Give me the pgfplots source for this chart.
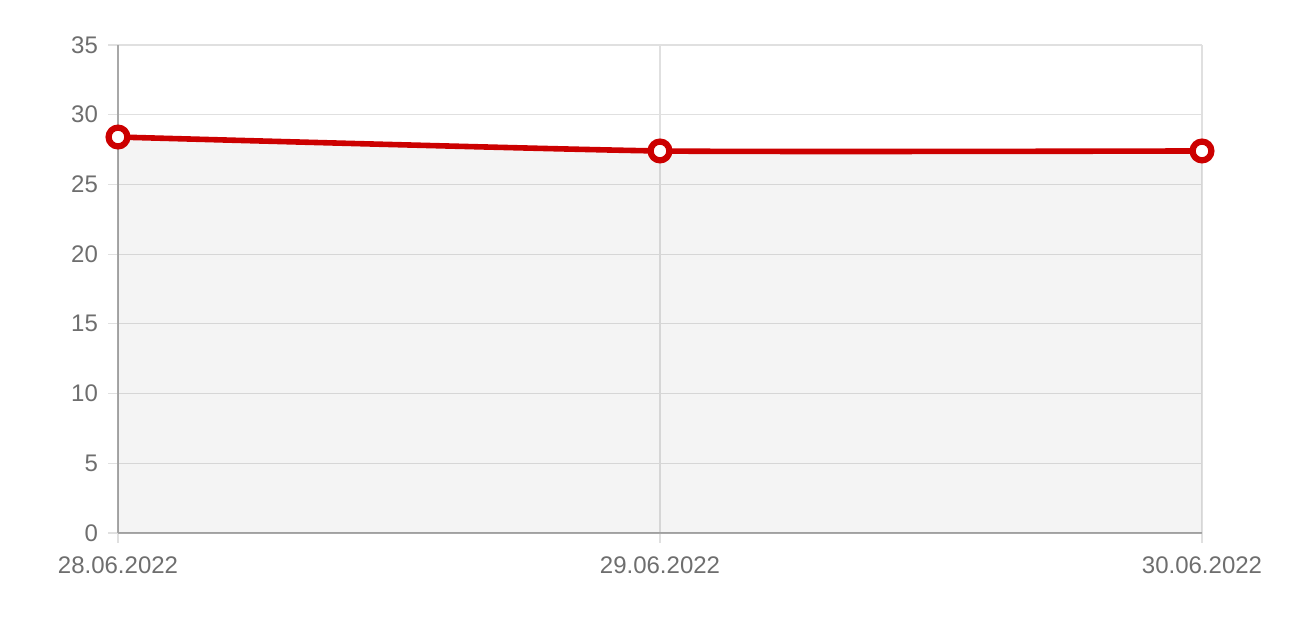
\documentclass[border=0pt]{standalone}
\usepackage{fontspec}
\setmainfont{Liberation Sans}
\usepackage{pgfplots}
\pgfplotsset{compat=1.18}
\definecolor{linered}{RGB}{204,0,0}
\definecolor{gridgray}{RGB}{224,224,224}
\definecolor{axisgray}{RGB}{168,168,168}
\definecolor{labelgray}{RGB}{110,110,110}
\begin{document}
\begin{tikzpicture}
% canvas: 1px = 0.5pt, axis box 118..1202 x 45..533 of 1292x620
\useasboundingbox (-59pt,-43.5pt) rectangle (587pt,266.5pt);
\begin{axis}[
  at={(0,0)}, anchor=south west,
  scale only axis, width=542pt, height=244pt,
  xmin=0, xmax=2, ymin=0, ymax=35,
  xtick={0,1,2}, xticklabels={28.06.2022,29.06.2022,30.06.2022},
  ytick={0,5,...,35},
  grid=major, major grid style={gridgray, line width=0.6pt},
  axis lines=left, axis line style={-, axisgray, line width=0.7pt},
  tick align=outside, major tick length=5pt,
  tick style={gridgray, line width=0.6pt},
  tick label style={labelgray, font=\fontsize{12}{14}\selectfont},
  /pgf/number format/assume math mode=true,
  yticklabel style={xshift=-1.5pt},
  xticklabel style={yshift=-3.5pt},
  clip=false,
]
\addplot[draw=none, fill=black, fill opacity=0.045, smooth, tension=0.3]
  coordinates {(0,28.4) (1,27.4) (2,27.4)} \closedcycle;
\addplot[linered, line width=2.8pt, smooth, tension=0.3,
  mark=*, mark size=4.7pt,
  mark options={fill=white, draw=linered, line width=3.1pt}]
  coordinates {(0,28.4) (1,27.4) (2,27.4)};
\end{axis}
\end{tikzpicture}
\end{document}
